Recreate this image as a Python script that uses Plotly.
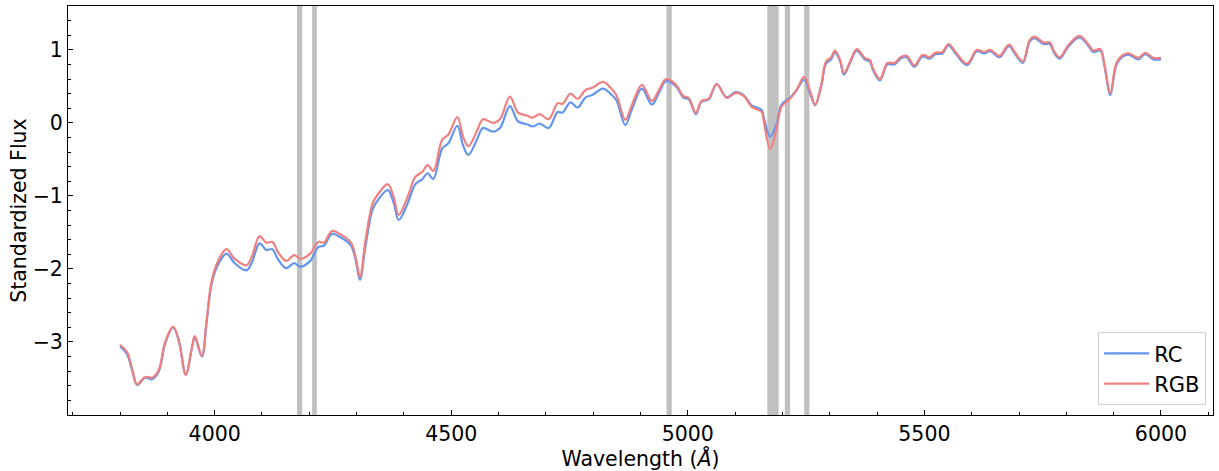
import plotly.graph_objects as go

wavelength = [3800, 3815, 3826, 3836, 3853, 3868, 3882, 3895, 3912, 3924, 3939, 3952, 3958, 3973, 3983, 3994,
              4008, 4025, 4042, 4067, 4078, 4095, 4109, 4122, 4134, 4151, 4168, 4181, 4202, 4219, 4231, 4248,
              4267, 4288, 4298, 4307, 4319, 4334, 4347, 4366, 4378, 4389, 4408, 4424, 4439, 4450, 4462, 4481,
              4494, 4513, 4525, 4536, 4555, 4567, 4588, 4603, 4624, 4641, 4660, 4672, 4687, 4706, 4725, 4735,
              4752, 4767, 4784, 4798, 4821, 4838, 4849, 4868, 4882, 4903, 4924, 4939, 4954, 4975, 4990, 5002,
              5017, 5029, 5044, 5061, 5082, 5101, 5118, 5135, 5156, 5160, 5174, 5187, 5198, 5217, 5229, 5246,
              5259, 5269, 5282, 5292, 5303, 5311, 5322, 5330, 5343, 5357, 5374, 5385, 5391, 5406, 5422, 5437,
              5450, 5462, 5479, 5496, 5511, 5523, 5538, 5551, 5567, 5590, 5611, 5626, 5639, 5654, 5660, 5679,
              5691, 5708, 5723, 5733, 5752, 5765, 5775, 5786, 5805, 5828, 5847, 5857, 5872, 5880, 5893, 5906,
              5920, 5933, 5952, 5967, 5984, 6000]

flux_rgb = [-3.04, -3.14, -3.38, -3.58, -3.48, -3.49, -3.38, -3.01, -2.79, -2.97, -3.45, -3.07, -2.92, -3.19, -2.70, -2.15,
            -1.88, -1.73, -1.86, -1.95, -1.84, -1.55, -1.64, -1.63, -1.77, -1.89, -1.81, -1.86, -1.79, -1.63, -1.64, -1.48,
            -1.53, -1.64, -1.84, -2.11, -1.60, -1.10, -0.96, -0.84, -1.01, -1.26, -1.01, -0.74, -0.67, -0.58, -0.66, -0.23,
            -0.16, 0.08, -0.19, -0.32, -0.10, 0.05, 0.00, 0.05, 0.36, 0.14, 0.10, 0.07, 0.12, 0.05, 0.27, 0.26,
            0.40, 0.33, 0.45, 0.48, 0.56, 0.47, 0.38, 0.04, 0.25, 0.52, 0.30, 0.45, 0.60, 0.52, 0.37, 0.34,
            0.14, 0.30, 0.33, 0.53, 0.34, 0.41, 0.37, 0.22, 0.15, 0.04, -0.36, -0.10, 0.22, 0.34, 0.44, 0.63,
            0.42, 0.25, 0.52, 0.84, 0.90, 0.99, 0.86, 0.68, 0.84, 1.01, 0.89, 0.86, 0.75, 0.60, 0.82, 0.82,
            0.90, 0.92, 0.79, 0.93, 0.90, 0.96, 0.97, 1.08, 0.96, 0.81, 1.00, 0.97, 1.00, 0.93, 0.92, 1.07,
            0.97, 0.84, 1.14, 1.18, 1.10, 1.10, 0.97, 0.90, 1.07, 1.19, 1.07, 0.99, 1.01, 0.82, 0.41, 0.82,
            0.93, 0.95, 0.89, 0.96, 0.89, 0.89]

flux_rc = [-3.06, -3.17, -3.40, -3.59, -3.49, -3.51, -3.40, -3.03, -2.80, -2.98, -3.45, -3.08, -2.94, -3.20, -2.73, -2.19,
           -1.93, -1.79, -1.92, -2.02, -1.92, -1.65, -1.74, -1.73, -1.87, -1.99, -1.92, -1.97, -1.89, -1.70, -1.68, -1.52,
           -1.57, -1.68, -1.88, -2.15, -1.68, -1.18, -1.04, -0.92, -1.09, -1.33, -1.10, -0.84, -0.77, -0.69, -0.77, -0.35,
           -0.28, -0.04, -0.31, -0.44, -0.22, -0.07, -0.12, -0.07, 0.23, 0.02, -0.02, -0.05, -0.01, -0.07, 0.15, 0.14,
           0.28, 0.21, 0.35, 0.38, 0.47, 0.39, 0.31, -0.03, 0.19, 0.47, 0.25, 0.41, 0.57, 0.50, 0.35, 0.32,
           0.12, 0.29, 0.32, 0.53, 0.35, 0.42, 0.38, 0.24, 0.18, 0.09, -0.19, -0.03, 0.25, 0.35, 0.44, 0.59,
           0.39, 0.24, 0.50, 0.81, 0.87, 0.96, 0.84, 0.66, 0.82, 0.99, 0.87, 0.84, 0.73, 0.58, 0.80, 0.80,
           0.88, 0.90, 0.77, 0.91, 0.88, 0.94, 0.95, 1.06, 0.94, 0.79, 0.98, 0.95, 0.98, 0.91, 0.90, 1.05,
           0.95, 0.82, 1.12, 1.16, 1.08, 1.08, 0.95, 0.88, 1.05, 1.17, 1.05, 0.97, 0.99, 0.80, 0.38, 0.80,
           0.91, 0.93, 0.87, 0.94, 0.87, 0.87]

band_start = [4174, 4206, 4955, 5168, 5205, 5246]
band_end = [4185, 4216, 4966, 5192, 5216, 5257]

x_ticks = [4000, 4500, 5000, 5500, 6000]
y_ticks = [-3, -2, -1, 0, 1]

FONT = "DejaVu Sans"
FS = 20.5

fig = go.Figure()
fig.add_trace(go.Scatter(x=wavelength, y=flux_rc, mode="lines", name="RC",
                         line=dict(color="#6495ED", width=2.2, shape="spline", smoothing=1.0)))
fig.add_trace(go.Scatter(x=wavelength, y=flux_rgb, mode="lines", name="RGB",
                         line=dict(color="#F08080", width=2.2, shape="spline", smoothing=1.0)))

for s, e in zip(band_start, band_end):
    fig.add_shape(type="rect", xref="x", yref="paper", x0=s, x1=e, y0=0, y1=1,
                  fillcolor="#C0C0C0", line=dict(width=0), layer="below")

fig.update_layout(
    width=1219, height=471,
    margin=dict(l=68, r=6, t=6, b=56),
    paper_bgcolor="white", plot_bgcolor="white",
    font=dict(family=FONT, size=FS, color="black"),
    showlegend=True,
    legend=dict(x=0.994, y=0.024, xanchor="right", yanchor="bottom",
                bgcolor="rgba(255,255,255,0.8)", bordercolor="#d0d0d0", borderwidth=1,
                font=dict(family=FONT, size=FS + 0.5), itemwidth=45),
)
fig.update_xaxes(range=[3690, 6110], tickvals=x_ticks, ticks="inside", ticklen=5, tickwidth=1,
                 tickcolor="black", showline=True, linecolor="black", linewidth=1, mirror=True,
                 showgrid=False, zeroline=False, tickfont=dict(size=FS),
                 minor=dict(dtick=100, tick0=0, ticks="inside", ticklen=3, tickcolor="black"),
                 title=dict(text="Wavelength (<i>Å</i>)", font=dict(size=FS), standoff=3))
fig.update_yaxes(range=[-4.0, 1.6], tickvals=y_ticks, ticks="inside", ticklen=5, tickwidth=1,
                 tickcolor="black", showline=True, linecolor="black", linewidth=1, mirror=True,
                 showgrid=False, zeroline=False, tickfont=dict(size=FS),
                 minor=dict(dtick=0.2, tick0=0, ticks="inside", ticklen=3, tickcolor="black"),
                 title=dict(text="Standardized Flux", font=dict(size=FS), standoff=0))

fig.write_html("out.html")
